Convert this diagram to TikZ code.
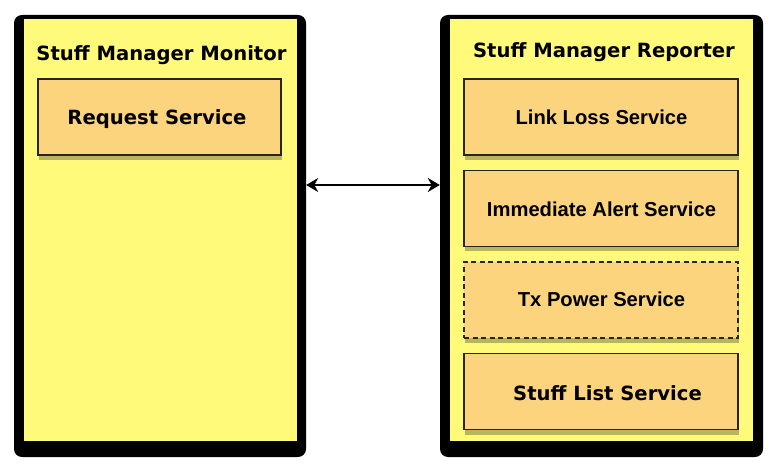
\documentclass[tikz,border=0pt]{standalone}
\usepackage{fontspec}
\newfontfamily\dvfont{DejaVu Sans}
\newfontfamily\lsfont{Liberation Sans}
\usetikzlibrary{shadows,arrows.meta}
\definecolor{paneyellow}{RGB}{255,250,122}
\definecolor{svcorange}{RGB}{252,212,125}
\definecolor{svcborder}{RGB}{40,36,30}
\tikzset{
  outerbox/.style={fill=black, rounded corners=8pt, inner sep=0pt},
  svcbox/.style={draw=svcborder, line width=1.5pt, fill=svcorange, inner sep=0pt,
     minimum width=274pt, minimum height=76pt,
     drop shadow={shadow xshift=1pt, shadow yshift=-5pt, opacity=0.35, fill=black!80!olive}},
  titletext/.style={anchor=base, inner sep=0pt, font=\dvfont\bfseries\fontsize{19.6}{21}\selectfont},
  vtext/.style={anchor=base, inner sep=0pt, font=\dvfont\bfseries\fontsize{19.6}{21}\selectfont},
  atext/.style={anchor=base, inner sep=0pt, font=\lsfont\bfseries\fontsize{20.2}{22}\selectfont},
  link/.style={line width=2pt, {Stealth[length=12pt,width=14pt]}-{Stealth[length=12pt,width=14pt]}}
}
\begin{document}
\begin{tikzpicture}[x=1pt,y=-1pt]
\useasboundingbox (0,0) rectangle (773,470);
% containers
\node[outerbox, minimum width=292pt, minimum height=442pt] (monitor) at (160,236) {};
\fill[paneyellow] (24,19) rectangle (297,441);
\node[outerbox, minimum width=323pt, minimum height=442pt] (reporter) at (601.5,236) {};
\fill[paneyellow] (450,19) rectangle (753,441);
% titles
\node[titletext] (tmon) at (161.5,60.5) {Stuff Manager Monitor};
\node[titletext] (trep) at (604,57.5) {Stuff Manager Reporter};
% services
\node[svcbox, minimum width=243pt] (req) at (159.5,117) {};
\node[vtext] (reqt) at (157,125) {Request Service};
\node[svcbox] (link) at (601,117) {};
\node[atext] (linkt) at (601.5,125) {Link Loss Service};
\node[svcbox] (imm) at (601,208.5) {};
\node[atext] (immt) at (601.5,216.5) {Immediate Alert Service};
\node[svcbox, dash pattern=on 5pt off 3.5pt] (tx) at (601,300) {};
\node[atext] (txt) at (601.5,306.5) {Tx Power Service};
\node[svcbox] (list) at (601,391.5) {};
\node[vtext] (listt) at (607.5,400) {Stuff List Service};
% connector
\coordinate (ay) at (0,185);
\draw[link] (monitor.east |- ay) -- (reporter.west |- ay);
\end{tikzpicture}
\end{document}
